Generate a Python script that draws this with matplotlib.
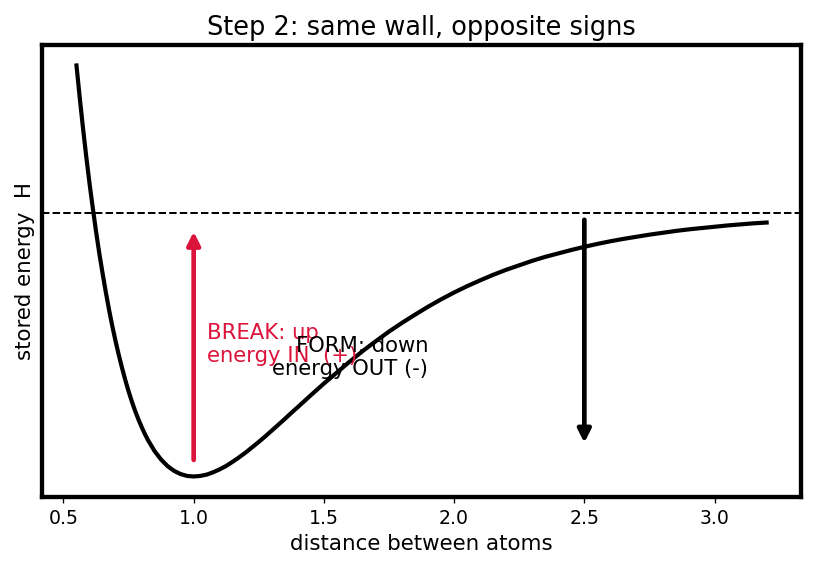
import matplotlib
matplotlib.use("Agg")
import matplotlib.pyplot as plt

# distance between atoms vs stored energy (well depth = -1)
r = [0.55, 0.5625, 0.575, 0.5875, 0.60, 0.6125, 0.625, 0.6375, 0.65, 0.6625, 0.675,
     0.6875, 0.70, 0.7125, 0.725, 0.7375, 0.75, 0.7625, 0.775, 0.7875, 0.80, 0.8125,
     0.825, 0.85, 0.875, 0.90, 0.925, 0.95, 0.975, 1.00, 1.025, 1.05, 1.075, 1.10,
     1.125, 1.15, 1.175, 1.20, 1.225, 1.25, 1.275, 1.30, 1.325, 1.35, 1.375, 1.40,
     1.45, 1.50, 1.55, 1.60, 1.65, 1.70, 1.75, 1.80, 1.85, 1.90, 1.95, 2.00, 2.05,
     2.10, 2.15, 2.20, 2.25, 2.30, 2.35, 2.40, 2.45, 2.50, 2.55, 2.60, 2.65, 2.70,
     2.75, 2.80, 2.85, 2.90, 2.95, 3.00, 3.05, 3.10, 3.15, 3.20]
energy = [0.557, 0.435, 0.320, 0.212, 0.111, 0.018, -0.071, -0.154, -0.229, -0.301, -0.368,
          -0.430, -0.487, -0.540, -0.589, -0.635, -0.677, -0.716, -0.751, -0.783, -0.812, -0.839,
          -0.863, -0.904, -0.936, -0.961, -0.979, -0.991, -0.998, -1.000, -0.998, -0.993, -0.984,
          -0.973, -0.960, -0.944, -0.927, -0.909, -0.889, -0.869, -0.848, -0.826, -0.804, -0.782,
          -0.759, -0.737, -0.692, -0.648, -0.606, -0.564, -0.524, -0.487, -0.451, -0.418,
          -0.387, -0.357, -0.329, -0.303, -0.279, -0.257, -0.236, -0.217, -0.200, -0.183,
          -0.168, -0.155, -0.142, -0.130, -0.119, -0.109, -0.100, -0.092, -0.084, -0.077,
          -0.070, -0.064, -0.059, -0.054, -0.049, -0.045, -0.041, -0.038]

break_x, break_from, break_to = 1.0, -0.95, -0.06
form_x, form_from, form_to = 2.5, -0.015, -0.885

fig = plt.figure(figsize=(815 / 120, 573 / 120), dpi=120)
ax = fig.add_axes([0.0515, 0.1326, 0.9315, 0.789])

ax.plot(r, energy, color="black", lw=2.5, solid_joinstyle="round")
ax.axhline(0, color="black", ls="--", lw=1.2)

# break: energy in
ax.annotate("", xy=(break_x, break_to), xytext=(break_x, break_from),
            arrowprops=dict(arrowstyle="-|>", color="crimson", lw=2.8, mutation_scale=16))
ax.text(1.05, -0.5, "BREAK: up\nenergy IN  (+)", color="crimson", fontsize=12.7,
        ha="left", va="center")

# form: energy out
ax.annotate("", xy=(form_x, form_to), xytext=(form_x, form_from),
            arrowprops=dict(arrowstyle="-|>", color="black", lw=2.8, mutation_scale=16))
ax.text(1.9, -0.55, "FORM: down\nenergy OUT (-)", color="black", fontsize=12.7,
        ha="right", va="center", multialignment="right")

ax.set_yticks([])
ax.tick_params(axis="x", labelsize=11.3)
for s in ax.spines.values():
    s.set_linewidth(2.6)

ax.set_xlabel("distance between atoms", fontsize=12.8)
ax.set_ylabel("stored energy  H", fontsize=12.8)
ax.set_title("Step 2: same wall, opposite signs", fontsize=15.4)

fig.savefig("out.png", dpi=120)
